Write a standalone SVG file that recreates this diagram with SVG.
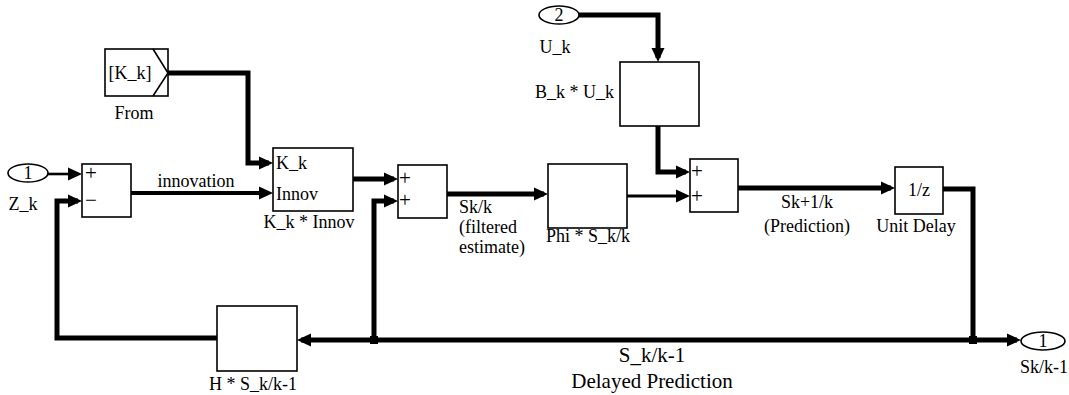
<svg xmlns="http://www.w3.org/2000/svg" width="1069" height="395" viewBox="0 0 1069 395">
<defs>
<marker id="ah" markerUnits="userSpaceOnUse" markerWidth="16" markerHeight="14" refX="10" refY="7" orient="auto"><path d="M0,0.5 L14,7 L0,13.5 z" fill="#000"/></marker>
<style>
.blk{fill:#fff;stroke:#000;stroke-width:1.6}
.w{fill:none;stroke:#000;stroke-linejoin:miter;stroke-linecap:butt}
.thick{stroke-width:5}
.med{stroke-width:4}
.thin{stroke-width:2.6}
.arr{marker-end:url(#ah)}
text{font-family:"Liberation Serif","Times New Roman",serif;font-size:18px;fill:#000}
.c{text-anchor:middle}
.r{text-anchor:end}
.sgn{font-size:21px}
.big{font-size:21px}
.dot{fill:#000}
</style>
</defs>
<rect width="1069" height="395" fill="#fff"/>

<g id="connectors">
  <path class="w thin arr" d="M48,174 H78"/>
  <path class="w med arr" d="M131,193 H269"/>
  <path class="w thick arr" d="M168,73 H248 V163 H269"/>
  <path class="w thick arr" d="M353,179 H394"/>
  <path class="w thick arr" d="M447,194 H544"/>
  <path class="w thin arr" style="stroke-width:3" d="M627,196 H686"/>
  <path class="w thick arr" d="M579,15 H658 V58"/>
  <path class="w thick arr" d="M658,126 V172 H686"/>
  <path class="w thick arr" d="M738,188 H891"/>
  <path class="w thick arr" d="M943,189 H973 V340 H1017"/>
  <path class="w thick arr" d="M973,340 H301"/>
  <path class="w thick arr" d="M374,340 V201 H394"/>
  <path class="w thick arr" d="M217,338 H57 V201 H78"/>
  <rect class="dot" x="370" y="336" width="8" height="8"/>
  <rect class="dot" x="969" y="336" width="8" height="8"/>
  <text class="c" x="196" y="187">innovation</text>
  <text x="459" y="213">Sk/k</text>
  <text x="459" y="233">(filtered</text>
  <text x="459" y="253">estimate)</text>
  <text class="c" x="807" y="208">Sk+1/k</text>
  <text class="c" x="807" y="232">(Prediction)</text>
  <text class="c big" x="652" y="362">S_k/k-1</text>
  <text class="c big" x="652" y="388">Delayed Prediction</text>
</g>

<g id="in1">
  <ellipse class="blk" cx="28" cy="173" rx="20" ry="9"/>
  <text class="c" x="28" y="179">1</text>
  <text class="c" x="23" y="210">Z_k</text>
</g>

<g id="sum1">
  <rect class="blk" x="82" y="164" width="49" height="53"/>
  <text class="c sgn" x="91" y="180">+</text>
  <text class="c sgn" x="91" y="207">−</text>
</g>

<g id="from">
  <rect class="blk" x="105" y="49" width="63" height="47"/>
  <path class="w" style="stroke-width:1.6" d="M153,49 L168,73 L153,96"/>
  <text class="c" x="130" y="79">[K_k]</text>
  <text class="c" x="134" y="119">From</text>
</g>

<g id="gain_k">
  <rect class="blk" x="273" y="148" width="80" height="63"/>
  <text x="276" y="169">K_k</text>
  <text x="276" y="200">Innov</text>
  <text class="c" x="309" y="228">K_k * Innov</text>
</g>

<g id="sum2">
  <rect class="blk" x="398" y="165" width="49" height="53"/>
  <text class="c sgn" x="405" y="185">+</text>
  <text class="c sgn" x="405" y="207">+</text>
</g>

<g id="phi">
  <rect class="blk" x="548" y="164" width="79" height="64"/>
  <text class="c" x="588" y="242">Phi * S_k/k</text>
</g>

<g id="in2">
  <ellipse class="blk" cx="559" cy="15" rx="20" ry="9"/>
  <text class="c" x="559" y="21">2</text>
  <text class="c" x="555" y="53">U_k</text>
</g>

<g id="bk">
  <rect class="blk" x="620" y="62" width="79" height="64"/>
  <text class="r" x="614" y="98">B_k * U_k</text>
</g>

<g id="sum3">
  <rect class="blk" x="690" y="159" width="48" height="53"/>
  <text class="c sgn" x="697" y="178">+</text>
  <text class="c sgn" x="697" y="203">+</text>
</g>

<g id="unit_delay">
  <rect class="blk" x="895" y="167" width="48" height="47"/>
  <text class="c" x="919" y="196">1/z</text>
  <text class="c" x="916" y="232">Unit Delay</text>
</g>

<g id="h_block">
  <rect class="blk" x="217" y="306" width="80" height="65"/>
  <text class="c" x="253" y="390">H * S_k/k-1</text>
</g>

<g id="out1">
  <ellipse class="blk" cx="1043" cy="341" rx="22" ry="9"/>
  <text class="c" x="1043" y="347">1</text>
  <text class="c" x="1044" y="373">Sk/k-1</text>
</g>
</svg>
